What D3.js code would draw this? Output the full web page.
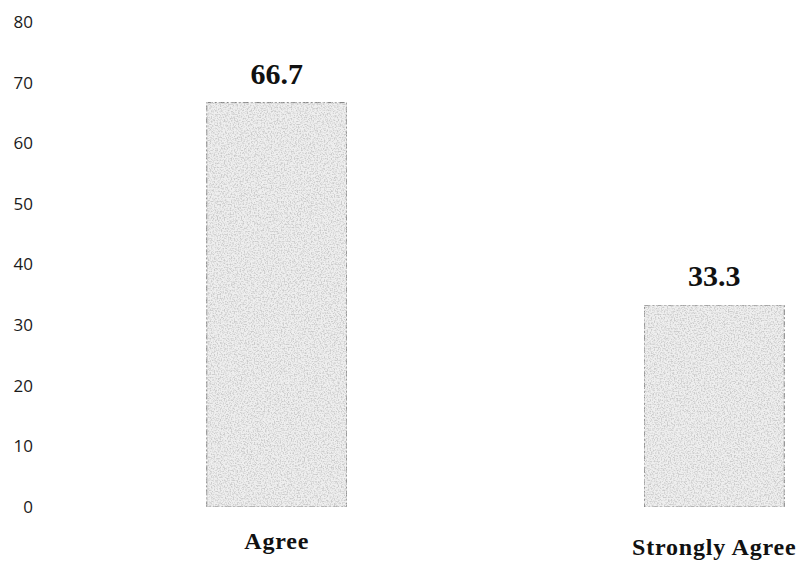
<!DOCTYPE html>
<html><head><meta charset="utf-8">
<script src="https://cdn.jsdelivr.net/npm/d3@7"></script>
<style>body{margin:0;background:#fff}</style>
</head><body>
<script>
const categories = ["Agree", "Strongly Agree"];
const values = [66.7, 33.3];
const valueLabels = ["66.7", "33.3"];
const yTicks = [0, 10, 20, 30, 40, 50, 60, 70, 80];

const W = 806, H = 567;
const svg = d3.select("body").append("svg").attr("width", W).attr("height", H);

const defs = svg.append("defs");
const f = defs.append("filter").attr("id", "grain").attr("x", 0).attr("y", 0).attr("width", 1).attr("height", 1);
f.append("feTurbulence").attr("type", "fractalNoise").attr("baseFrequency", 0.7).attr("numOctaves", 2).attr("seed", 3).attr("result", "noise");
f.append("feColorMatrix").attr("in", "noise").attr("type", "matrix")
  .attr("values", "0 0 0 0 0.6  0 0 0 0 0.6  0 0 0 0 0.6  0 0 0 -3.2 1.85").attr("result", "dots");
f.append("feComposite").attr("in", "dots").attr("in2", "SourceGraphic").attr("operator", "in").attr("result", "d2");
f.append("feMerge").selectAll("feMergeNode").data(["SourceGraphic", "d2"]).join("feMergeNode").attr("in", d => d);

const y = d3.scaleLinear().domain([0, 80]).range([507, 22]);
const x = d3.scaleBand().domain(categories).range([58, 933]).paddingInner(0.68).paddingOuter(0.34);

const yAxis = svg.append("g").attr("transform", "translate(33,0)")
  .call(d3.axisLeft(y).tickValues(yTicks).tickSize(0).tickPadding(0));
yAxis.select(".domain").remove();
yAxis.selectAll("text").attr("font-family", "'Open Sans', 'DejaVu Sans', sans-serif")
  .attr("font-size", 17).attr("fill", "#1a1a1a").attr("text-anchor", "end");

svg.selectAll("rect.bar").data(values).join("rect").attr("class", "bar")
  .attr("x", (d, i) => x(categories[i]))
  .attr("y", d => y(d))
  .attr("width", x.bandwidth())
  .attr("height", d => y(0) - y(d))
  .attr("fill", "#efefef")
  .attr("stroke", "#777").attr("stroke-width", 1).attr("stroke-dasharray", "6,2,2,2")
  .attr("filter", "url(#grain)");

svg.selectAll("text.val").data(values).join("text").attr("class", "val")
  .attr("x", (d, i) => x(categories[i]) + x.bandwidth() / 2)
  .attr("y", d => y(d) - 19)
  .attr("text-anchor", "middle")
  .attr("font-family", "'Liberation Serif', 'Times New Roman', serif")
  .attr("font-weight", "bold").attr("font-size", 30).attr("fill", "#111")
  .text((d, i) => valueLabels[i]);

svg.selectAll("text.cat").data(categories).join("text").attr("class", "cat")
  .attr("x", d => x(d) + x.bandwidth() / 2)
  .attr("y", (d, i) => 549 + i * 6)
  .attr("text-anchor", "middle")
  .attr("font-family", "'Liberation Serif', 'Times New Roman', serif")
  .attr("font-weight", "bold").attr("font-size", 24).attr("fill", "#111")
  .attr("letter-spacing", 0.8)
  .text(d => d);
</script>
</body></html>
